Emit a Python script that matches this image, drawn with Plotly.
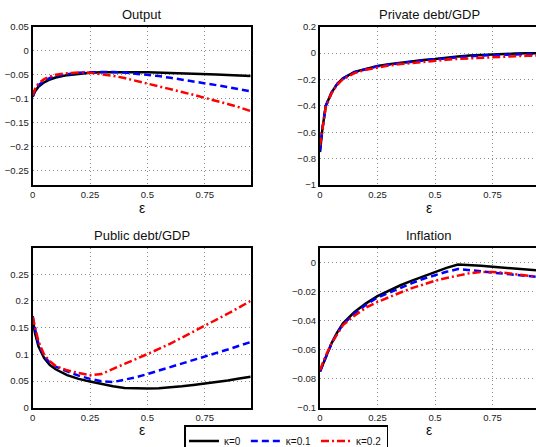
import plotly.graph_objects as go

# ---------------- data ----------------
eps = [0, 0.01, 0.025, 0.05, 0.075, 0.1, 0.15, 0.2, 0.25, 0.3, 0.35, 0.4,
       0.45, 0.5, 0.55, 0.6, 0.65, 0.7, 0.75, 0.8, 0.85, 0.9, 0.95]

series_names = ["κ=0", "κ=0.1", "κ=0.2"]

output_k0 = [-0.096, -0.085, -0.075, -0.066, -0.060, -0.056, -0.051, -0.048, -0.046, -0.045,
             -0.0445, -0.0445, -0.0447, -0.045, -0.0455, -0.046, -0.0467, -0.0475, -0.0485,
             -0.0495, -0.0505, -0.0517, -0.053]
output_k1 = [-0.095, -0.083, -0.072, -0.063, -0.057, -0.053, -0.049, -0.046, -0.045, -0.044,
             -0.0442, -0.0455, -0.0475, -0.050, -0.053, -0.0565, -0.060, -0.064, -0.068,
             -0.0718, -0.0757, -0.0797, -0.085]
output_k2 = [-0.093, -0.080, -0.068, -0.059, -0.054, -0.050, -0.047, -0.0455, -0.046, -0.049,
             -0.0525, -0.057, -0.0625, -0.068, -0.074, -0.080, -0.086, -0.092, -0.098,
             -0.1045, -0.111, -0.118, -0.126]

private_k0 = [-0.75, -0.58, -0.40, -0.30, -0.232, -0.19, -0.142, -0.117, -0.097, -0.084,
              -0.072, -0.062, -0.053, -0.045, -0.033, -0.025, -0.019, -0.014, -0.010,
              -0.007, -0.004, -0.002, -0.001]
private_k1 = [-0.74, -0.58, -0.40, -0.30, -0.234, -0.192, -0.145, -0.12, -0.10, -0.087,
              -0.075, -0.065, -0.056, -0.047, -0.038, -0.030, -0.024, -0.019, -0.015,
              -0.011, -0.008, -0.006, -0.005]
private_k2 = [-0.70, -0.57, -0.41, -0.305, -0.24, -0.198, -0.152, -0.126, -0.108, -0.094,
              -0.083, -0.074, -0.066, -0.058, -0.051, -0.044, -0.039, -0.035, -0.031,
              -0.027, -0.024, -0.021, -0.018]

public_k0 = [0.165, 0.14, 0.115, 0.093, 0.080, 0.072, 0.061, 0.054, 0.049, 0.044, 0.040,
             0.037, 0.0358, 0.0358, 0.0365, 0.038, 0.040, 0.0425, 0.045, 0.048, 0.051,
             0.0545, 0.058]
public_k1 = [0.172, 0.148, 0.12, 0.096, 0.084, 0.077, 0.068, 0.060, 0.054, 0.0495, 0.048,
             0.052, 0.057, 0.063, 0.0695, 0.076, 0.082, 0.089, 0.0955, 0.102, 0.109,
             0.116, 0.123]
public_k2 = [0.170, 0.15, 0.124, 0.099, 0.087, 0.078, 0.070, 0.065, 0.061, 0.063, 0.073,
             0.082, 0.091, 0.100, 0.110, 0.120, 0.131, 0.142, 0.153, 0.164, 0.176,
             0.188, 0.200]

infl_k0 = [-0.075, -0.071, -0.065, -0.0556, -0.048, -0.0418, -0.034, -0.028, -0.023, -0.019,
           -0.0155, -0.0123, -0.0093, -0.0062, -0.0035, -0.0012, -0.0015, -0.0021, -0.0028,
           -0.0034, -0.004, -0.0046, -0.0052]
infl_k1 = [-0.075, -0.071, -0.065, -0.0558, -0.0485, -0.0425, -0.035, -0.029, -0.024, -0.0205,
           -0.017, -0.014, -0.011, -0.0085, -0.0062, -0.0043, -0.0048, -0.0058, -0.0068,
           -0.0075, -0.0083, -0.009, -0.0098]
infl_k2 = [-0.074, -0.070, -0.064, -0.0555, -0.0488, -0.043, -0.0365, -0.031, -0.027, -0.0235,
           -0.0205, -0.0175, -0.0148, -0.0124, -0.0105, -0.0088, -0.0072, -0.0064, -0.0063,
           -0.0069, -0.0078, -0.0088, -0.0098]

panel_titles = ["Output", "Private debt/GDP", "Public debt/GDP", "Inflation"]

x_tickvals = [0, 0.25, 0.5, 0.75]
x_ticktext = ["0", "0.25", "0.5", "0.75"]

output_tickvals = [0.05, 0, -0.05, -0.1, -0.15, -0.2, -0.25]
output_ticktext = ["0.05", "0", "−0.05", "−0.1", "−0.15", "−0.2", "−0.25"]
private_tickvals = [0.2, 0, -0.2, -0.4, -0.6, -0.8, -1]
private_ticktext = ["0.2", "0", "−0.2", "−0.4", "−0.6", "−0.8", "−1"]
public_tickvals = [0, 0.05, 0.1, 0.15, 0.2, 0.25]
public_ticktext = ["0", "0.05", "0.1", "0.15", "0.2", "0.25"]
infl_tickvals = [0, -0.02, -0.04, -0.06, -0.08, -0.1]
infl_ticktext = ["0", "−0.02", "−0.04", "−0.06", "−0.08", "−0.1"]

# ---------------- figure ----------------
W, H = 536, 447
colors = ["#000000", "#0000FF", "#FF0000"]
dashes = ["solid", "7px,4px", "8px,3px,2px,3px"]

panels = [
    (output_k0, output_k1, output_k2),
    (private_k0, private_k1, private_k2),
    (public_k0, public_k1, public_k2),
    (infl_k0, infl_k1, infl_k2),
]

fig = go.Figure()
for p, ser in enumerate(panels):
    ax = "" if p == 0 else str(p + 1)
    for i, ys in enumerate(ser):
        fig.add_trace(go.Scatter(
            x=eps, y=ys, mode="lines",
            name=series_names[i], legendgroup=series_names[i],
            showlegend=(p == 0),
            line=dict(color=colors[i], width=2.5, dash=dashes[i]),
            xaxis="x" + ax, yaxis="y" + ax,
        ))

# pixel geometry
def px_x(a, b):
    return [a / W, b / W]

def px_y(top, bottom):
    return [1 - bottom / H, 1 - top / H]

left_dom = px_x(32.7, 250.7)
right_dom = px_x(320.0, 536.0)
top_dom = px_y(26.7, 185.0)
bot_dom = px_y(248.3, 407.7)

tickfont = dict(family="Liberation Sans, Arial, sans-serif", size=9.5, color="#222222")
common_axis = dict(showline=True, linecolor="black", linewidth=2, ticks="",
                   showgrid=True, gridcolor="#8c8c8c", griddash="1px,3px", gridwidth=1,
                   zeroline=False, tickfont=tickfont)

x_right_max = (536.0 - 320.0) / 230.0

layout_axes = {}
specs = [
    ("", left_dom, top_dom, [0, 0.95], [-0.28, 0.05], output_tickvals, output_ticktext, True),
    ("2", right_dom, top_dom, [0, x_right_max], [-1, 0.2], private_tickvals, private_ticktext, False),
    ("3", left_dom, bot_dom, [0, 0.95], [0, 0.2985], public_tickvals, public_ticktext, True),
    ("4", right_dom, bot_dom, [0, x_right_max], [-0.1, 0.01], infl_tickvals, infl_ticktext, False),
]
for ax, xd, yd, xr, yr, tv, tt, ymirror in specs:
    layout_axes["xaxis" + ax] = dict(common_axis, domain=xd, range=xr, anchor="y" + ax,
                                     tickvals=x_tickvals, ticktext=x_ticktext, mirror=True)
    layout_axes["yaxis" + ax] = dict(common_axis, domain=yd, range=yr, anchor="x" + ax,
                                     tickvals=tv, ticktext=tt, mirror=ymirror)

annotations = []
title_font = dict(family="Liberation Sans, Arial, sans-serif", size=13, color="#111111")
label_font = dict(family="Liberation Sans, Arial, sans-serif", size=14, color="#111111")
centers_x = [(32.7 + 250.7) / 2, (320 + 538) / 2]
title_y = [14, 235.5]
label_y = [208, 430]
for p, t in enumerate(panel_titles):
    cx = centers_x[p % 2]
    r = p // 2
    annotations.append(dict(text=t, x=cx / W, y=1 - title_y[r] / H, xref="paper", yref="paper",
                            showarrow=False, font=title_font, xanchor="center", yanchor="middle"))
    annotations.append(dict(text="ε", x=cx / W, y=1 - label_y[r] / H, xref="paper", yref="paper",
                            showarrow=False, font=label_font, xanchor="center", yanchor="middle"))

fig.update_layout(
    width=W, height=H,
    margin=dict(l=0, r=0, t=0, b=0, autoexpand=False),
    paper_bgcolor="white", plot_bgcolor="white",
    showlegend=True,
    legend=dict(orientation="h", x=184 / W, y=1 - 425 / H, xanchor="left", yanchor="top",
                bordercolor="black", borderwidth=1.5, bgcolor="white",
                font=dict(family="Liberation Sans, Arial, sans-serif", size=10, color="#111111"),
                itemwidth=30, tracegroupgap=0),
    annotations=annotations,
    **layout_axes,
)

fig.write_html("out.html")
